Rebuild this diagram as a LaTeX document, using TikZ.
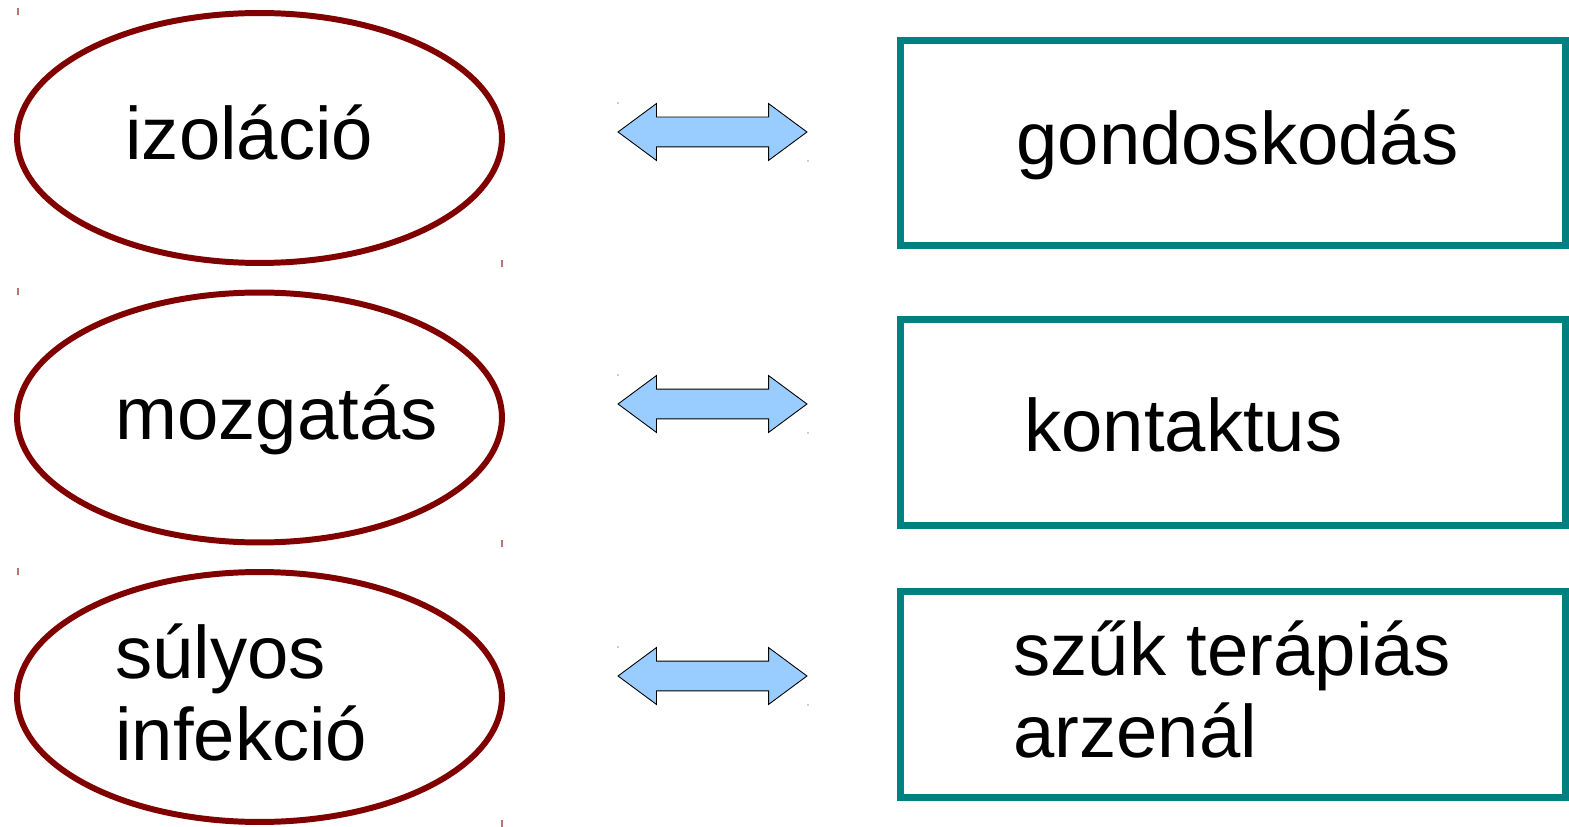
\documentclass[tikz,border=0pt]{standalone}
\usepackage{fontspec}
\setmainfont{Liberation Sans}
\usetikzlibrary{shapes.geometric,shapes.arrows}
\definecolor{oxred}{HTML}{800000}
\definecolor{tealbox}{HTML}{008080}
\definecolor{skyarrow}{HTML}{99CCFF}

\begin{document}
\begin{tikzpicture}[x=0.02cm,y=-0.02cm,
  oval/.style={ellipse,draw=oxred,line width=3.4pt,minimum width=9.7cm,minimum height=5cm,inner sep=0pt},
  box/.style={rectangle,draw=tealbox,line width=4pt,minimum width=13.32cm,minimum height=4.12cm,inner sep=0pt},
  dbl/.style={double arrow,draw=black,line width=0.5pt,fill=skyarrow,minimum height=3.78cm,
    double arrow head extend=0.27cm,double arrow tip angle=73,inner xsep=0pt,inner ysep=0.29cm},
  word/.style={anchor=base west,inner sep=0pt,font=\fontsize{42.3}{46.5}\selectfont,align=left}]
\useasboundingbox (0,0) rectangle (1569,827);

% left column: ellipses
  \node[oval] (iso) at (259.5,138)   {};
  \node[oval] (moz) at (259.5,417.5) {};
  \node[oval] (inf) at (259.5,697)   {};

% right column: boxes
  \node[box] (gon) at (1233,143)   {};
  \node[box] (kon) at (1233,422.5) {};
  \node[box] (arz) at (1233,694.5) {};

% double arrows in between
  \node[dbl] (a1) at (712.5,132) {};
  \node[dbl] (a2) at (712.5,404) {};
  \node[dbl] (a3) at (712.5,676) {};

% texts (base = last line)
  \node[word] (tiso) at (125,160)  {izoláció};
  \node[word] (tmoz) at (115,439)  {mozgatás};
  \node[word] (tinf) at (115,760)  {súlyos\\infekció};
  \node[word] (tgon) at (1016,165) {gondoskodás};
  \node[word] (tkon) at (1024,452) {kontaktus};
  \node[word] (tarz) at (1013,757) {szűk terápiás\\arzenál};

% little corner marks
  \foreach \y in {8,288,568}
    \draw[oxred!55,line width=1pt] (18,\y) -- ++(0,7) (502,\y+252) -- ++(0,7);
  \foreach \y in {104,376,648}
    \fill[black!40] (618,\y-1) circle (0.8) (808,\y+57) circle (0.8);
\end{tikzpicture}
\end{document}
